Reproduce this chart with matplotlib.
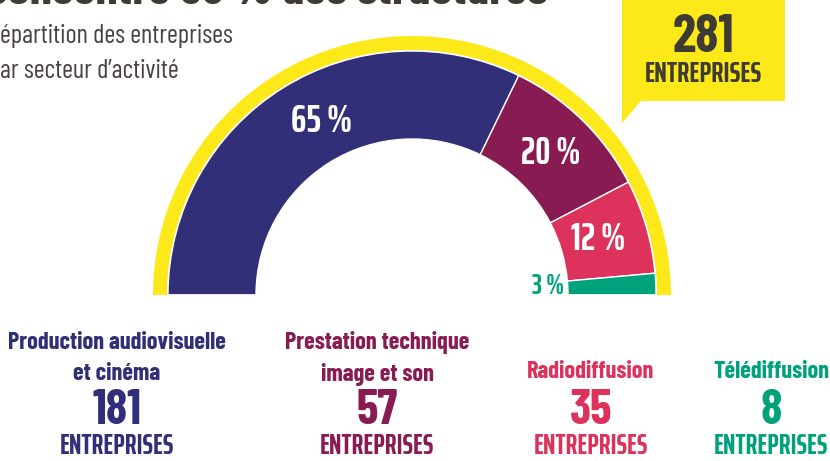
import numpy as np
import matplotlib
matplotlib.use("Agg")
from matplotlib import pyplot as plt

# données
secteurs = ["Production audiovisuelle\net cinéma", "Prestation technique\nimage et son",
            "Radiodiffusion", "Télédiffusion"]
entreprises = [181, 57, 35, 8]
pourcentages = ["65 %", "20 %", "12 %", "3 %"]
total = 281

couleurs = ["#312f78", "#891b53", "#dc325b", "#00a27b"]
jaune = "#fde91a"
gris = "#3d3b33"
FONT = ["Barlow Condensed", "DejaVu Sans"]
FONT_XC = ["Saira ExtraCondensed", "Barlow Condensed", "DejaVu Sans"]

W, H = 830, 461
fig = plt.figure(figsize=(W / 100, H / 100), dpi=100)
ax = fig.add_axes([0, 0, 1, 1])

def py(y):
    # coordonnées pixel (haut = 0) -> coordonnées axe
    return H - y

cx, cy = 412, py(295)

# anneau jaune
ax.pie([1, 1], radius=259, center=(cx, cy), startangle=180, counterclock=False,
       colors=[jaune, "none"], wedgeprops=dict(width=14, linewidth=0))

# demi-donut des secteurs (moitié basse invisible)
ax.pie(entreprises + [total], radius=244, center=(cx, cy), startangle=180, counterclock=False,
       colors=couleurs + ["none"], wedgeprops=dict(width=88, edgecolor="white", linewidth=1))

# étiquettes de pourcentage
pos_pct = [(322, 121), (551, 153), (598, 240), (548, 286)]
tailles = [28, 27, 27, 20]
for i, ((x, y), txt) in enumerate(zip(pos_pct, pourcentages)):
    c = "white" if i < 3 else couleurs[i]
    ax.text(x, py(y), txt, color=c, fontsize=tailles[i], fontweight="bold",
            ha="center", va="center", family=FONT_XC)

# bulle 281 entreprises
bx = [622, 785, 785, 641, 622, 622]
by = [-5, -5, 101, 101, 123, -5]
ax.fill(bx, [py(v) for v in by], color=jaune, lw=0)
ax.text(703, py(38), str(total), color=gris, fontsize=38, fontweight="bold",
        ha="center", va="center", family=FONT)
ax.text(703, py(74), "ENTREPRISES", color=gris, fontsize=21, fontweight="bold",
        ha="center", va="center", family=FONT_XC)

# titre (coupé en haut) et sous-titre
ax.text(-14, py(4), "concentre 39 % des structures", color=gris, fontsize=36, fontweight="bold",
        ha="left", va="baseline", family=FONT)
ax.text(0, py(36), "épartition des entreprises", color="#4a4242", fontsize=19,
        ha="left", va="center", family=FONT)
ax.text(0, py(71), "ar secteur d\u2019activité", color="#4a4242", fontsize=19,
        ha="left", va="center", family=FONT)

# légendes du bas
xs = [117, 377, 591, 771]
for x, nom, n, c in zip(xs, secteurs, entreprises, couleurs):
    lignes = nom.split("\n")
    if len(lignes) == 2:
        ax.text(x, py(343), lignes[0], color=c, fontsize=17.5, fontweight="bold", ha="center", va="center", family=FONT)
        ax.text(x, py(374), lignes[1], color=c, fontsize=17.5, fontweight="bold", ha="center", va="center", family=FONT)
    else:
        ax.text(x, py(372), lignes[0], color=c, fontsize=17.5, fontweight="bold", ha="center", va="center", family=FONT)
    ax.text(x, py(411), str(n), color=c, fontsize=35, fontweight="bold", ha="center", va="center", family=FONT)
    ax.text(x, py(446), "ENTREPRISES", color=c, fontsize=20.5, fontweight="bold", ha="center", va="center", family=FONT_XC)

ax.set_xlim(0, W)
ax.set_ylim(0, H)
ax.set_aspect("equal")
ax.axis("off")
fig.savefig("out.png", dpi=100)
